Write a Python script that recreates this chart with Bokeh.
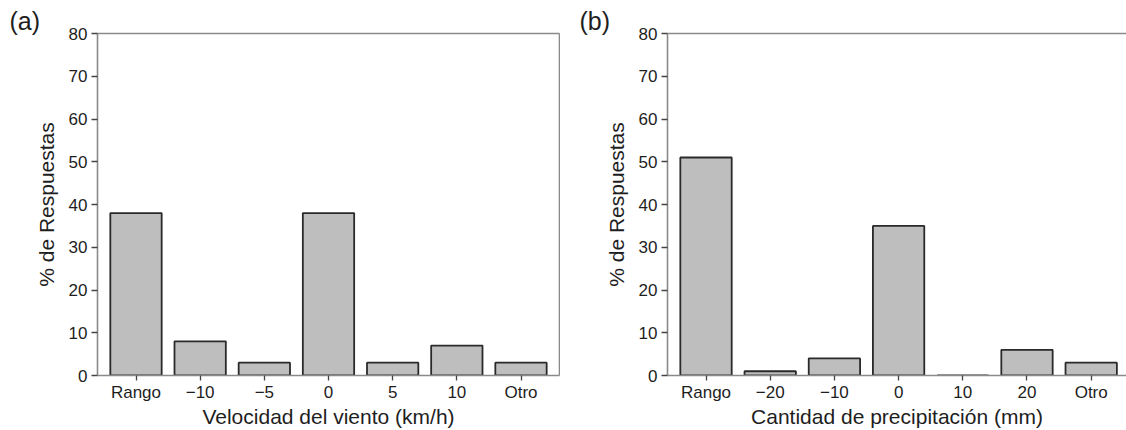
from bokeh.plotting import figure
from bokeh.models import Range1d, LinearAxis, FixedTicker, Title
from bokeh.layouts import row
from bokeh.embed import file_html
from bokeh.resources import INLINE

# ---- data ----
cats_a = ["Rango", "\u221210", "\u22125", "0", "5", "10", "Otro"]
vals_a = [38, 8, 3, 38, 3, 7, 3]
cats_b = ["Rango", "\u221220", "\u221210", "0", "10", "20", "Otro"]
vals_b = [51, 1, 4, 35, 0, 6, 3]
y_ticks = [0, 10, 20, 30, 40, 50, 60, 70, 80]
xlabel_a = "Velocidad del viento (km/h)"
xlabel_b = "Cantidad de precipitación (mm)"
ylabel = "% de Respuestas"

FONT = "Liberation Sans"
SPINE = "#8a8a8a"
TICK = "#444444"
TXT = "#1e1e1e"


def style_axis(ax, ticks=True):
    ax.axis_line_color = SPINE
    ax.axis_line_width = 1.6
    ax.minor_tick_line_color = None
    ax.major_tick_in = 0
    if ticks:
        ax.major_tick_out = 6
        ax.major_tick_line_color = TICK
        ax.major_tick_line_width = 1.3
        ax.major_label_text_font = FONT
        ax.major_label_text_font_size = "17px"
        ax.major_label_text_color = TXT
        ax.major_label_standoff = 4
        ax.axis_label_text_font = FONT
        ax.axis_label_text_font_size = "21px"
        ax.axis_label_text_font_style = "normal"
        ax.axis_label_text_color = TXT
    else:
        ax.major_tick_out = 0
        ax.major_tick_line_color = None
        ax.major_label_text_font_size = "0px"
        ax.ticker = FixedTicker(ticks=[])


def make_panel(cats, vals, xlabel, tag, width, bl, br, x_end, right_spine):
    idx = list(range(len(cats)))
    p = figure(width=width, height=430, output_backend="svg", toolbar_location=None,
               x_range=Range1d(-0.6, x_end), y_range=Range1d(0, 80),
               min_border_left=bl, min_border_right=br, min_border_top=33,
               min_border_bottom=55, x_axis_location=None, y_axis_location=None)
    p.outline_line_color = None
    p.grid.visible = False
    p.background_fill_color = "white"
    p.border_fill_color = "white"

    p.vbar(x=idx, top=vals, width=0.8, bottom=0, fill_color="#bebebe",
           line_color="#2a2a2a", line_width=1.8)

    yax = LinearAxis(ticker=FixedTicker(ticks=y_ticks), axis_label=ylabel)
    style_axis(yax)
    yax.axis_label_standoff = 8
    p.add_layout(yax, "left")

    xax = LinearAxis(ticker=FixedTicker(ticks=idx), axis_label=xlabel)
    xax.major_label_overrides = {i: c for i, c in zip(idx, cats)}
    style_axis(xax)
    xax.major_tick_out = 5
    xax.major_label_standoff = 2
    xax.axis_label_standoff = 0
    p.add_layout(xax, "below")

    top = LinearAxis()
    style_axis(top, ticks=False)
    p.add_layout(top, "above")
    if right_spine:
        rax = LinearAxis()
        style_axis(rax, ticks=False)
        p.add_layout(rax, "right")

    t = Title(text=tag, align="left", offset=-88, text_font=FONT,
              text_font_size="25px", text_font_style="normal", text_color=TXT,
              standoff=-3)
    p.add_layout(t, "above")
    return p


pa = make_panel(cats_a, vals_a, xlabel_a, "(a)", 560, 97, 1, 6.6, True)
pb = make_panel(cats_b, vals_b, xlabel_b, "(b)", 566, 107, 0, 6.55, False)

layout = row(pa, pb, spacing=0)
open("out.html", "w").write(file_html(layout, INLINE))
